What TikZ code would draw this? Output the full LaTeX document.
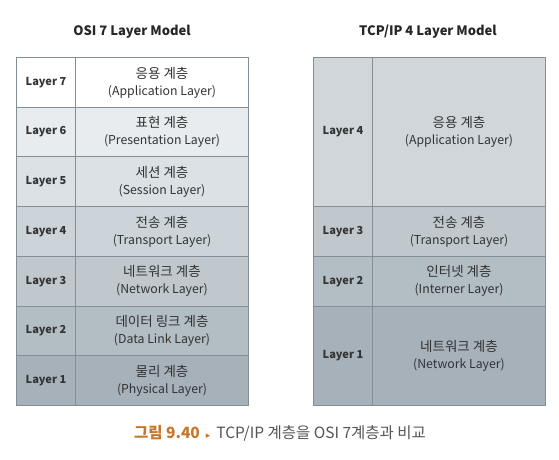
\documentclass[tikz,border=0pt]{standalone}
\usepackage{fontspec}
\setmainfont{Noto Sans CJK KR}
\newfontfamily\dejavu{DejaVu Sans}
\definecolor{bordergray}{HTML}{848E95}
\definecolor{textgray}{HTML}{333333}
\definecolor{capor}{HTML}{C8772A}
\definecolor{capgray}{HTML}{555555}
\definecolor{oa}{HTML}{FFFFFF}
\definecolor{ob}{HTML}{E8ECEE}
\definecolor{oc}{HTML}{DBE1E4}
\definecolor{od}{HTML}{CDD4D9}
\definecolor{oe}{HTML}{C0C8CE}
\definecolor{of}{HTML}{B3BDC4}
\definecolor{og}{HTML}{A6B1B9}
\definecolor{tcpa}{HTML}{D0D6D9}
\newcommand\celltext[2]{{\fontsize{13.5}{17}\selectfont #1}\\{\fontsize{12.3}{17}\selectfont #2}}
\begin{document}
\begin{tikzpicture}[x=1pt,y=-1pt,
  cell/.style={draw=bordergray, line width=1pt, rectangle, inner sep=0pt, anchor=north west, align=center, text=textgray},
  lab/.style={cell, minimum width=59pt, font=\fontsize{11}{13}\selectfont\bfseries},
  desc/.style={cell, minimum width=173pt, font=\fontsize{12.3}{17}\selectfont},
  title/.style={font=\fontsize{13}{15}\selectfont\bfseries, text=black!85}]
\useasboundingbox (0,0) rectangle (559,460);
\fill[white] (0,0) rectangle (559,460);
\node[title] (t1) at (132,32) {OSI 7 Layer Model};
\node[title] (t2) at (428,32) {TCP/IP 4 Layer Model};
% OSI
\node[lab, fill=oa, minimum height=49.7pt] (o7l) at (16,57) {Layer 7};
\node[desc, fill=oa, minimum height=49.7pt] (o7d) at (75,57) {\celltext{응용 계층}{(Application Layer)}};
\node[lab, fill=ob, minimum height=49.7pt] (o6l) at (16,106.7) {Layer 6};
\node[desc, fill=ob, minimum height=49.7pt] (o6d) at (75,106.7) {\celltext{표현 계층}{(Presentation Layer)}};
\node[lab, fill=oc, minimum height=49.7pt] (o5l) at (16,156.4) {Layer 5};
\node[desc, fill=oc, minimum height=49.7pt] (o5d) at (75,156.4) {\celltext{세션 계층}{(Session Layer)}};
\node[lab, fill=od, minimum height=49.7pt] (o4l) at (16,206.1) {Layer 4};
\node[desc, fill=od, minimum height=49.7pt] (o4d) at (75,206.1) {\celltext{전송 계층}{(Transport Layer)}};
\node[lab, fill=oe, minimum height=49.7pt] (o3l) at (16,255.8) {Layer 3};
\node[desc, fill=oe, minimum height=49.7pt] (o3d) at (75,255.8) {\celltext{네트워크 계층}{(Network Layer)}};
\node[lab, fill=of, minimum height=49.7pt] (o2l) at (16,305.5) {Layer 2};
\node[desc, fill=of, minimum height=49.7pt] (o2d) at (75,305.5) {\celltext{데이터 링크 계층}{(Data Link Layer)}};
\node[lab, fill=og, minimum height=49.7pt] (o1l) at (16,355.2) {Layer 1};
\node[desc, fill=og, minimum height=49.7pt] (o1d) at (75,355.2) {\celltext{물리 계층}{(Physical Layer)}};
% TCP/IP
\node[lab, fill=tcpa, minimum height=149.1pt] (p4l) at (313,57) {Layer 4};
\node[desc, fill=tcpa, minimum height=149.1pt] (p4d) at (372,57) {\celltext{응용 계층}{(Application Layer)}};
\node[lab, fill=oe, minimum height=49.7pt] (p3l) at (313,206.1) {Layer 3};
\node[desc, fill=oe, minimum height=49.7pt] (p3d) at (372,206.1) {\celltext{전송 계층}{(Transport Layer)}};
\node[lab, fill=of, minimum height=49.7pt] (p2l) at (313,255.8) {Layer 2};
\node[desc, fill=of, minimum height=49.7pt] (p2d) at (372,255.8) {\celltext{인터넷 계층}{(Interner Layer)}};
\node[lab, fill=og, minimum height=99.4pt] (p1l) at (313,305.5) {Layer 1};
\node[desc, fill=og, minimum height=99.4pt] (p1d) at (372,305.5) {\celltext{네트워크 계층}{(Network Layer)}};
% caption
\node[font=\fontsize{15.5}{18}\selectfont, text=capgray] (cap) at (280,433)
  {{\color{capor}\bfseries 그림 9.40}\hspace{6pt}{\dejavu\color{capor}\fontsize{9}{10}\selectfont ▸}\hspace{6pt}TCP/IP 계층을 OSI 7계층과 비교};
\end{tikzpicture}
\end{document}
